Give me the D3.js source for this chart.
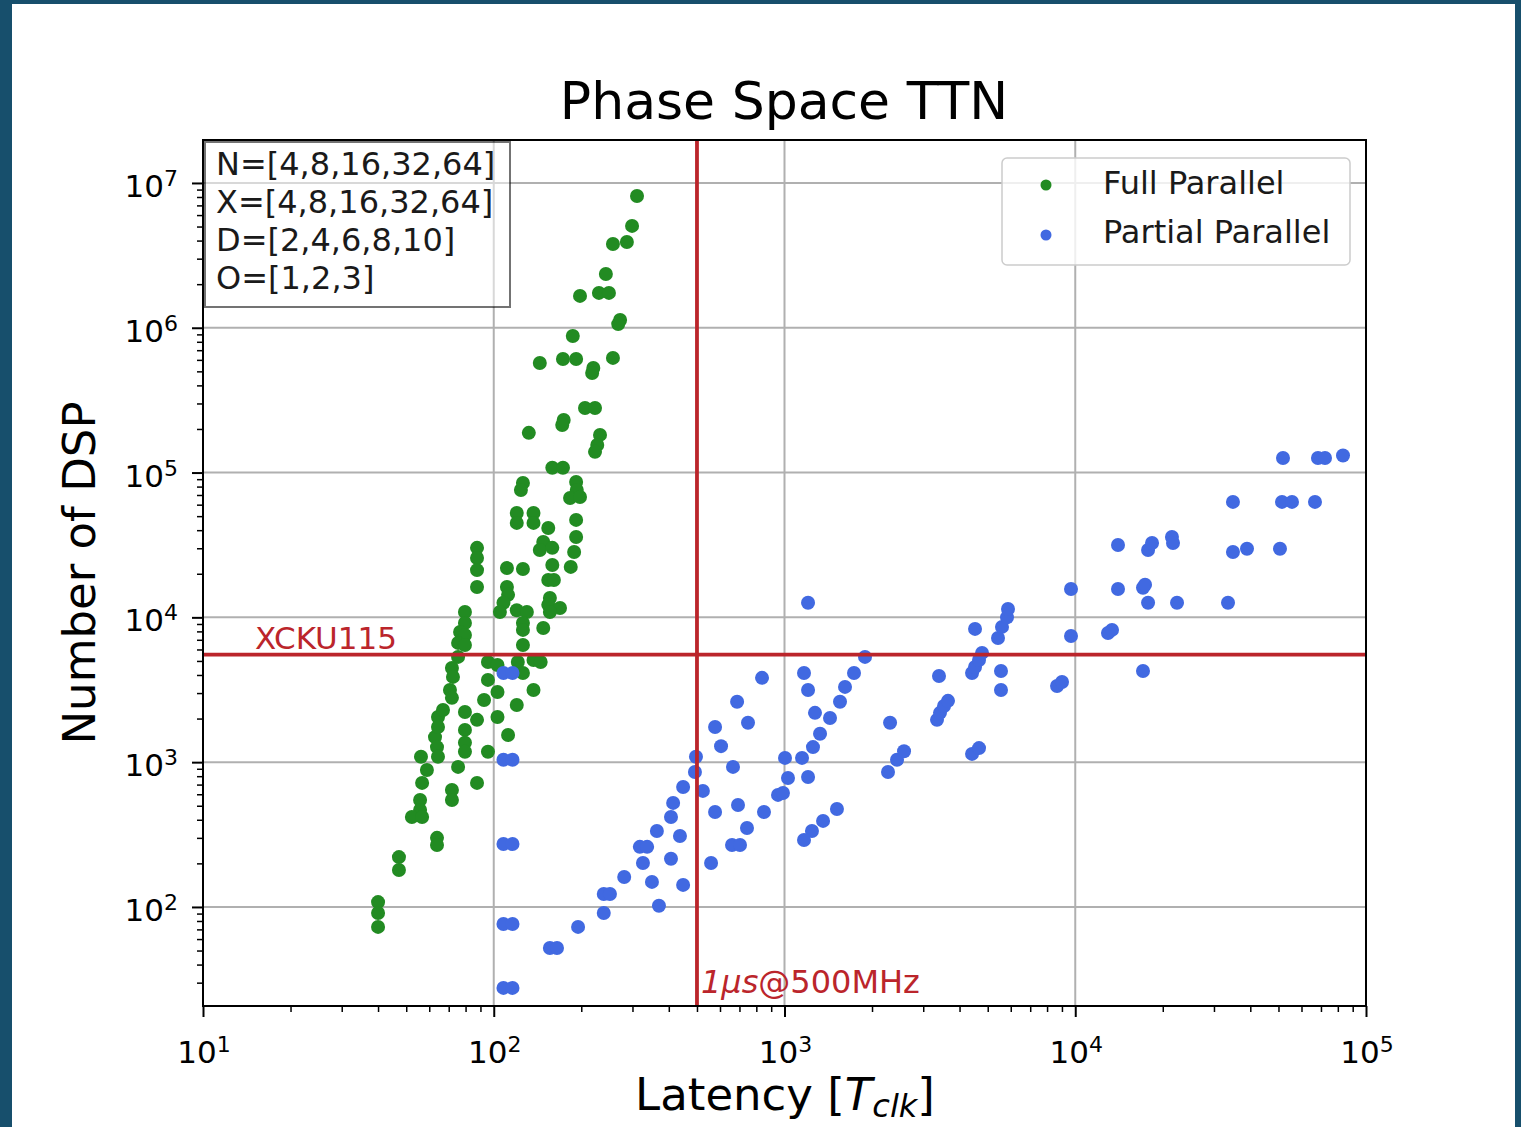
<!DOCTYPE html>
<html>
<head>
<meta charset="utf-8">
<script src="https://cdn.jsdelivr.net/npm/d3@7"></script>
<style>
  html, body { margin: 0; padding: 0; background: #174f6c; }
  svg { display: block; }
  text { font-family: "DejaVu Sans", sans-serif; }
</style>
</head>
<body>
<svg id="chart" width="1521" height="1127"></svg>
<script>
// Full Parallel designs: latency [clock cycles] and DSP count
const fullLatency = [
  311, 299, 257, 287, 243, 198, 230, 249, 272, 268,
  187, 144, 173, 192, 220, 218, 257, 206, 223, 174,
  172, 132, 232, 227, 223, 159, 173, 126, 124, 192,
  193, 183, 198, 120, 120, 137, 137, 154, 148, 144,
  159, 192, 192, 189, 184, 87.6, 87.6, 87.6, 87.6, 111,
  126, 159, 154, 161, 111, 112, 108, 105, 156, 154,
  169, 156, 120, 130, 79.6, 79.6, 76.6, 79.6, 75.4, 79.6,
  126, 126, 148, 126, 75.4, 71.8, 72.4, 70.7, 71.8, 95.5,
  95.5, 103, 121, 126, 137, 145, 103, 137, 92.6, 120,
  64.3, 66.9, 79.6, 87.6, 103, 79.6, 112, 56.2, 58.9, 56.7,
  55.8, 62.8, 63.8, 64.3, 75.4, 79.6, 79.6, 87.6, 71.8, 71.8,
  95.5, 55.8, 52.3, 56.7, 63.8, 63.8, 47.2, 47.2, 40.0, 40.0,
  40.0, 64.3
];
const fullDSP = [
  8130000, 5050000, 3790000, 3910000, 2350000, 1660000, 1740000, 1740000, 1130000, 1060000,
  878000, 571000, 609000, 609000, 528000, 487000, 619000, 279000, 279000, 231000,
  213000, 188000, 182000, 155000, 139000, 108000, 108000, 84800, 75800, 86100,
  75800, 66800, 67800, 52600, 44900, 52600, 44900, 41400, 33200, 29200,
  30200, 47100, 35900, 28300, 22300, 30200, 25700, 21200, 16200, 21900,
  21600, 23000, 18100, 18100, 16200, 14300, 12600, 10900, 13600, 12200,
  11600, 10900, 11200, 10900, 10900, 9150, 7930, 7560, 6660, 6450,
  9150, 8190, 8450, 6450, 5330, 4470, 3880, 3150, 2780, 4920,
  3700, 4690, 4920, 4130, 5080, 4920, 3050, 3150, 2690, 2480,
  2050, 2290, 2220, 1960, 2050, 1670, 1540, 1090, 883, 719,
  548, 1490, 1270, 1090, 927, 1360, 1180, 719, 643, 548,
  1180, 468, 418, 418, 300, 268, 221, 180, 108, 90.9,
  72.8, 1750
];

// Partial Parallel designs: latency [clock cycles] and DSP count
const partialLatency = [
  108, 116, 108, 116, 108, 116, 108, 116, 108, 116,
  156, 165, 195, 239, 239, 251, 281, 326, 318, 337,
  350, 370, 364, 407, 407, 437, 414, 448, 448, 492,
  496, 524, 559, 577, 577, 605, 665, 687, 660, 703,
  692, 743, 749, 837, 850, 950, 1004, 1028, 988,
  1205, 1167, 1205, 1273, 1434, 1325, 1253, 1149, 1205, 1552,
  1615, 1734, 1892, 1515, 1357, 1243, 1167, 2307, 2270, 2438,
  2577, 3399, 3346, 3426, 3537, 3651, 4416, 4522, 4667, 4780,
  4522, 4416, 4667, 5424, 5598, 5825, 5871, 5554, 5554, 8657,
  9006, 9670, 9670, 12960, 13380, 14030, 14030, 17100, 17100, 17380,
  17800, 17800, 18370, 21510, 21690, 22390, 33530, 34870, 38970, 34870,
  50600, 51410, 55650, 66760, 51820, 68360, 72280, 83350
];
const partialDSP = [
  4130, 4130, 1040, 1040, 272, 272, 76.3, 76.3, 27.6, 27.6,
  52.1, 52.1, 72.8, 90.9, 123, 123, 161, 201, 260, 260,
  149, 102, 335, 215, 418, 309, 523, 142, 674, 855,
  1090, 633, 201, 453, 1750, 1290, 927, 2610, 268, 268,
  506, 351, 1870, 3820, 453, 594, 1070, 778, 613,
  12600, 4130, 3150, 2190, 2020, 1570, 1270, 1070, 790, 2610,
  3310, 4130, 5330, 475, 393, 335, 290, 1870, 855, 1040,
  1190, 3940, 1960, 2190, 2440, 2650, 4130, 4545, 5080, 5680,
  8320, 1140, 1250, 7210, 8590, 10000, 11430, 4260, 3150, 3360,
  3580, 7430, 15710, 7800, 8190, 15710, 31620, 4260, 16000, 16800,
  12600, 29200, 32600, 35900, 32600, 12600, 12600, 28300, 29800, 62700,
  29800, 62700, 62700, 62700, 126000, 126000, 126000, 131000
];

const seriesNames = ["Full Parallel", "Partial Parallel"];
const seriesColors = ["#228b22", "#4169e1"];
const xMajorTicks = [10, 100, 1000, 10000, 100000];
const yMajorTicks = [100, 1000, 10000, 100000, 1000000, 10000000];
const designSpace = ["N=[4,8,16,32,64]", "X=[4,8,16,32,64]", "D=[2,4,6,8,10]", "O=[1,2,3]"];

// Reference limits: DSPs available on the XCKU115 and the 1 µs budget at 500 MHz
const deviceName = "XCKU115";
const deviceDSP = 5520;
const latencyBudget = 500;

const W = 1521, H = 1127;
const area = { left: 203, right: 1366, top: 140, bottom: 1006 };
const red = "#bb252b";

const svg = d3.select("#chart");

// page panel
svg.append("rect").attr("x", 12).attr("y", 4).attr("width", 1503).attr("height", H)
  .attr("fill", "#ffffff");

const x = d3.scaleLog().domain([10, 1e5]).range([area.left, area.right]);
const y = d3.scaleLog().domain([20.7, 1.98e7]).range([area.bottom, area.top]);

function minorTicks(scale) {
  const [a, b] = scale.domain();
  const out = [];
  for (let e = Math.floor(Math.log10(a)); e <= Math.ceil(Math.log10(b)); e++) {
    for (let k = 2; k <= 9; k++) {
      const v = k * Math.pow(10, e);
      if (v >= a && v <= b) out.push(v);
    }
  }
  return out;
}

// grid
const grid = svg.append("g").attr("stroke", "#b0b0b0").attr("stroke-width", 2);
xMajorTicks.forEach(v => grid.append("line")
  .attr("x1", x(v)).attr("x2", x(v)).attr("y1", area.top).attr("y2", area.bottom));
yMajorTicks.forEach(v => grid.append("line")
  .attr("y1", y(v)).attr("y2", y(v)).attr("x1", area.left).attr("x2", area.right));

// data
svg.append("clipPath").attr("id", "plotClip").append("rect")
  .attr("x", area.left).attr("y", area.top)
  .attr("width", area.right - area.left).attr("height", area.bottom - area.top);

const dots = svg.append("g").attr("clip-path", "url(#plotClip)");
const series = [
  { lat: fullLatency, dsp: fullDSP },
  { lat: partialLatency, dsp: partialDSP }
];
series.forEach((s, i) => {
  dots.append("g").attr("fill", seriesColors[i])
    .selectAll("circle").data(d3.range(s.lat.length)).join("circle")
    .attr("cx", j => x(s.lat[j])).attr("cy", j => y(s.dsp[j])).attr("r", 7);
});

// reference lines
const refs = svg.append("g").attr("stroke", red).attr("stroke-width", 3.8);
refs.append("line").attr("x1", area.left).attr("x2", area.right)
  .attr("y1", y(deviceDSP)).attr("y2", y(deviceDSP));
refs.append("line").attr("x1", x(latencyBudget)).attr("x2", x(latencyBudget))
  .attr("y1", area.top).attr("y2", area.bottom);

svg.append("text").attr("x", 255).attr("y", y(deviceDSP) - 6)
  .attr("font-size", 31).attr("fill", red).text(deviceName);

const budgetLabel = svg.append("text").attr("x", x(latencyBudget) + 4).attr("y", 993)
  .attr("font-size", 32).attr("fill", red);
budgetLabel.append("tspan").attr("font-style", "italic").text("1μs");
budgetLabel.append("tspan").text("@500MHz");

// axes: major and minor ticks
function styleAxis(g) {
  g.select(".domain").remove();
  g.selectAll(".tick line").attr("stroke", "#000");
  g.selectAll(".tick text").remove();
}
svg.append("g").attr("transform", `translate(0,${area.bottom})`)
  .call(d3.axisBottom(x).tickValues(xMajorTicks).tickSize(11)).call(styleAxis)
  .selectAll(".tick line").attr("stroke-width", 2);
svg.append("g").attr("transform", `translate(0,${area.bottom})`)
  .call(d3.axisBottom(x).tickValues(minorTicks(x)).tickSize(6)).call(styleAxis)
  .selectAll(".tick line").attr("stroke-width", 1.5);
svg.append("g").attr("transform", `translate(${area.left},0)`)
  .call(d3.axisLeft(y).tickValues(yMajorTicks).tickSize(11)).call(styleAxis)
  .selectAll(".tick line").attr("stroke-width", 2);
svg.append("g").attr("transform", `translate(${area.left},0)`)
  .call(d3.axisLeft(y).tickValues(minorTicks(y)).tickSize(6)).call(styleAxis)
  .selectAll(".tick line").attr("stroke-width", 1.5);

// power-of-ten tick labels
function powerLabel(sel, v) {
  const e = Math.round(Math.log10(v));
  sel.append("tspan").text("10");
  sel.append("tspan").attr("font-size", 22).attr("dy", -11).text(e);
}
xMajorTicks.forEach(v => {
  const t = svg.append("text").attr("x", x(v) + 1).attr("y", 1063)
    .attr("font-size", 31).attr("text-anchor", "middle").attr("fill", "#000");
  powerLabel(t, v);
});
yMajorTicks.forEach(v => {
  const t = svg.append("text").attr("x", 178).attr("y", y(v) + 14)
    .attr("font-size", 31).attr("text-anchor", "end").attr("fill", "#000");
  powerLabel(t, v);
});

// frame
svg.append("rect").attr("x", area.left).attr("y", area.top)
  .attr("width", area.right - area.left).attr("height", area.bottom - area.top)
  .attr("fill", "none").attr("stroke", "#000").attr("stroke-width", 2);

// design-space box
const box = svg.append("g");
box.append("rect").attr("x", 205).attr("y", 142).attr("width", 305).attr("height", 165)
  .attr("fill", "#fff").attr("fill-opacity", 0.5)
  .attr("stroke", "#000").attr("stroke-opacity", 0.55).attr("stroke-width", 2);
designSpace.forEach((line, i) => {
  box.append("text").attr("x", 216).attr("y", 175 + i * 38)
    .attr("font-size", 32).attr("fill", "#1a1a1a").text(line);
});

// legend
const legend = svg.append("g");
legend.append("rect").attr("x", 1002).attr("y", 158).attr("width", 348).attr("height", 107)
  .attr("rx", 5).attr("fill", "#fff").attr("fill-opacity", 0.8)
  .attr("stroke", "#cccccc").attr("stroke-width", 1.5);
seriesNames.forEach((name, i) => {
  legend.append("circle").attr("cx", 1046).attr("cy", 185 + i * 50).attr("r", 5.5)
    .attr("fill", seriesColors[i]);
  legend.append("text").attr("x", 1103).attr("y", 194 + i * 49)
    .attr("font-size", 32).attr("fill", "#1a1a1a").text(name);
});

// title and axis titles
svg.append("text").attr("x", 784).attr("y", 119).attr("text-anchor", "middle")
  .attr("font-size", 52).attr("fill", "#000").text("Phase Space TTN");

svg.append("text").attr("transform", "translate(95,573) rotate(-90)")
  .attr("text-anchor", "middle").attr("font-size", 45).attr("fill", "#000")
  .text("Number of DSP");

const xTitle = svg.append("text").attr("x", 785).attr("y", 1110)
  .attr("text-anchor", "middle").attr("font-size", 45).attr("fill", "#000");
xTitle.append("tspan").text("Latency [");
xTitle.append("tspan").attr("font-style", "italic").text("T");
xTitle.append("tspan").attr("font-style", "italic").attr("font-size", 32).attr("dy", 7).text("clk");
xTitle.append("tspan").attr("dy", -7).text("]");
</script>
</body>
</html>
